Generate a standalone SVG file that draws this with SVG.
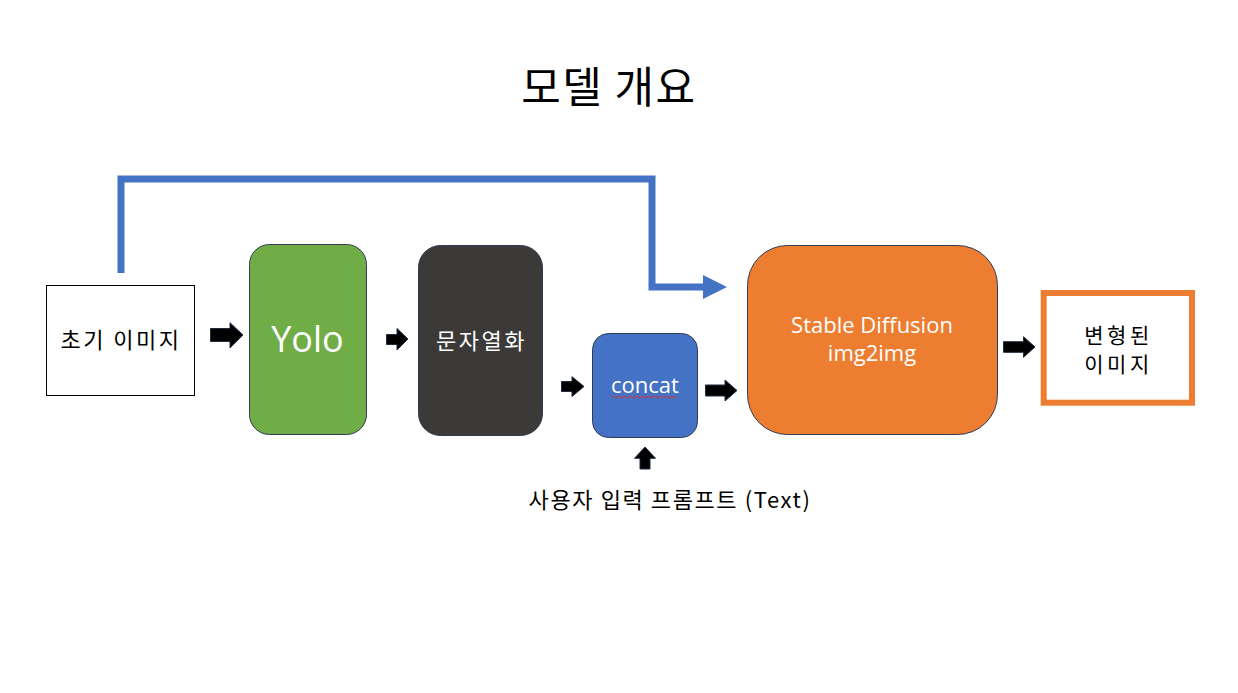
<svg xmlns="http://www.w3.org/2000/svg" width="1238" height="693" viewBox="0 0 1238 693">
<style>
  .kr { font-family: "Noto Sans CJK KR", "Noto Sans", sans-serif; }
  .lat { font-family: "Open Sans", "Noto Sans", sans-serif; }
  .node { stroke: #2F3B52; stroke-width: 1; }
  .blk { fill: #000; stroke: #1F2A44; stroke-width: 1; }
  .wt { fill: #fff; }
</style>
<defs>
  <marker id="blueHead" markerUnits="userSpaceOnUse" markerWidth="26" markerHeight="24" refX="0" refY="12" orient="auto">
    <path d="M0,0 L24,12 L0,24 Z" fill="#4472C4"/>
  </marker>
</defs>
<rect width="1238" height="693" fill="#fff"/>
<text x="609" y="103" text-anchor="middle" class="kr" font-size="43" letter-spacing="1.5" fill="#000">모델 개요</text>

<g id="node-input">
  <rect x="46.5" y="285.5" width="148" height="110" fill="#fff" stroke="#000" stroke-width="1"/>
  <text x="121" y="348" text-anchor="middle" class="kr" font-size="22" letter-spacing="2.5" fill="#000">초기 이미지</text>
</g>
<g id="node-yolo">
  <rect x="249.5" y="244.5" width="117" height="190" rx="20" class="node" fill="#70AD47"/>
  <text x="307.5" y="352" text-anchor="middle" class="lat wt" font-size="36">Yolo</text>
</g>
<g id="node-str">
  <rect x="418.5" y="245.5" width="124" height="190" rx="22" class="node" fill="#3B3A39"/>
  <text x="481.5" y="349" text-anchor="middle" class="kr wt" font-size="22" letter-spacing="2.5">문자열화</text>
</g>
<g id="node-concat">
  <rect x="592.5" y="333.5" width="105" height="104" rx="16" class="node" fill="#4472C4"/>
  <text x="645" y="393" text-anchor="middle" class="lat wt" font-size="22">concat</text>
  <path d="M611,397 q1.5,-2 3,0 t3,0 t3,0 t3,0 t3,0 t3,0 t3,0 t3,0 t3,0 t3,0 t3,0 t3,0 t3,0 t3,0 t3,0 t3,0 t3,0 t3,0 t3,0 t3,0 t3,0 t3,0" fill="none" stroke="#E03030" stroke-width="1"/>
</g>
<g id="node-sd">
  <rect x="747.5" y="245.5" width="250" height="189" rx="40" class="node" fill="#ED7D31"/>
  <text x="872" y="333" text-anchor="middle" class="lat wt" font-size="22">Stable Diffusion</text>
  <text x="872" y="361" text-anchor="middle" class="lat wt" font-size="22">img2img</text>
</g>
<g id="node-output">
  <rect x="1043.7" y="293" width="148.3" height="109.7" fill="#fff" stroke="#ED7D31" stroke-width="6"/>
  <text x="1118.5" y="343" text-anchor="middle" class="kr" font-size="21" letter-spacing="3.5" fill="#000">변형된</text>
  <text x="1118.5" y="371.5" text-anchor="middle" class="kr" font-size="21" letter-spacing="3.5" fill="#000">이미지</text>
</g>
<g id="prompt-label">
  <text x="670" y="508" text-anchor="middle" class="kr" font-size="22" letter-spacing="1.6" fill="#000">사용자 입력 프롬프트 (Text)</text>
</g>

<g id="connectors">
  <polyline points="121,273 121,179 652,179 652,287 703,287" fill="none" stroke="#4472C4" stroke-width="7" marker-end="url(#blueHead)"/>
  <polygon class="blk" points="210.5,328.5 230,328.5 230,322.7 243,335 230,348 230,341.5 210.5,341.5"/>
  <polygon class="blk" points="386.5,334.5 397,334.5 397,328.5 408,339 397,350 397,344.5 386.5,344.5"/>
  <polygon class="blk" points="561.5,381.5 572,381.5 572,376.7 584,386.5 572,396.5 572,391.5 561.5,391.5"/>
  <polygon class="blk" points="705.5,385 725,385 725,380 737,390.5 725,401 725,396 705.5,396"/>
  <polygon class="blk" points="1003.5,341.7 1023.5,341.7 1023.5,336.7 1035,347 1023.5,357.3 1023.5,352.3 1003.5,352.3"/>
  <polygon class="blk" points="640,469 640,458.3 634.5,458.3 645,447 655.5,458.3 650,458.3 650,469"/>
</g>
</svg>
